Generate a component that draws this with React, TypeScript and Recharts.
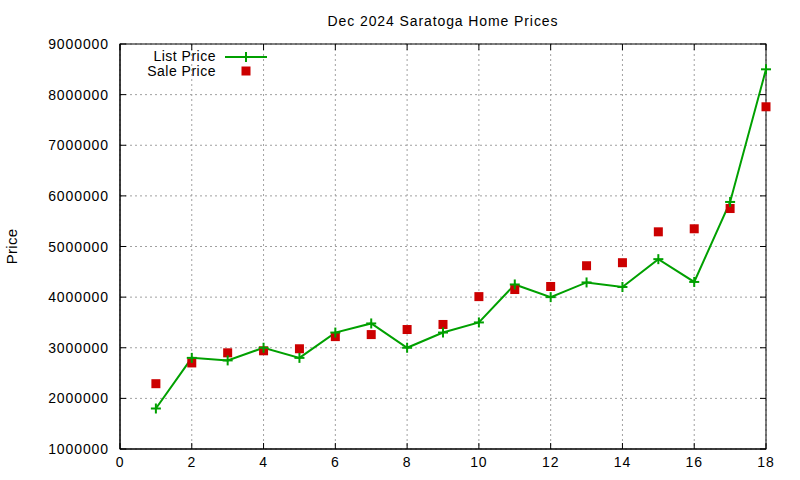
import React from 'react';
import { ComposedChart, Line, Scatter, XAxis, YAxis, CartesianGrid, Legend } from 'recharts';

const xValues = [1, 2, 3, 4, 5, 6, 7, 8, 9, 10, 11, 12, 13, 14, 15, 16, 17, 18];
const listPrices = [1800000, 2800000, 2750000, 3000000, 2800000, 3300000, 3480000, 3000000, 3300000, 3500000, 4250000, 4000000, 4290000, 4200000, 4750000, 4300000, 5880000, 8500000];
const salePrices = [2290000, 2700000, 2900000, 2940000, 2980000, 3220000, 3260000, 3360000, 3460000, 4010000, 4150000, 4210000, 4620000, 4680000, 5290000, 5350000, 5750000, 7760000];
const xTicks = [0, 2, 4, 6, 8, 10, 12, 14, 16, 18];
const yTicks = [1000000, 2000000, 3000000, 4000000, 5000000, 6000000, 7000000, 8000000, 9000000];
const xDomain = [0, 18];
const yDomain = [1000000, 9000000];
const title = 'Dec 2024 Saratoga Home Prices';
const yLabel = 'Price';
const listName = 'List Price';
const saleName = 'Sale Price';

const data = xValues.map((x, i) => ({ x, list: listPrices[i], sale: salePrices[i] }));

const W = 800;
const H = 480;
const MARGIN = { top: 44, right: 34, bottom: 0, left: 0 };
const Y_AXIS_W = 120;
const X_AXIS_H = 31;
const PLOT_L = MARGIN.left + Y_AXIS_W;
const PLOT_R = W - MARGIN.right;
const PLOT_T = MARGIN.top;
const PLOT_B = H - MARGIN.bottom - X_AXIS_H;

const GREEN = '#00a000';
const RED = '#cc0000';
const FONT = '"Liberation Sans", Arial, sans-serif';
const FS = 14;
const LS = 0.9;
const TICK = 6;

const ok = (n: any) => typeof n === 'number' && isFinite(n);

const LeftTick = (p: any) => {
  const { x, y, payload } = p;
  return (
    <g>
      <line x1={x + 11} x2={x + 11 + TICK} y1={y} y2={y} stroke="#000" strokeWidth={1} />
      <line x1={PLOT_R} x2={PLOT_R - TICK} y1={y} y2={y} stroke="#000" strokeWidth={1} />
      <text x={x} y={y} dy="0.36em" textAnchor="end" fontFamily={FONT} fontSize={FS} letterSpacing={LS} fill="#000">
        {payload.value}
      </text>
    </g>
  );
};

const BottomTick = (p: any) => {
  const { x, y, payload } = p;
  return (
    <g>
      <line x1={x} x2={x} y1={y - 7} y2={y - 7 - TICK} stroke="#000" strokeWidth={1} />
      <line x1={x} x2={x} y1={PLOT_T} y2={PLOT_T + TICK} stroke="#000" strokeWidth={1} />
      <text x={x} y={y} dy="0.78em" textAnchor="middle" fontFamily={FONT} fontSize={FS} letterSpacing={LS} fill="#000">
        {payload.value}
      </text>
    </g>
  );
};

const PlusDot = (p: any) => {
  const { cx, cy, index } = p;
  if (!ok(cx) || !ok(cy)) return <g key={`d${index}`} />;
  return (
    <g key={`d${index}`}>
      <line x1={cx - 5} x2={cx + 5} y1={cy} y2={cy} stroke={GREEN} strokeWidth={2} />
      <line x1={cx} x2={cx} y1={cy - 5} y2={cy + 5} stroke={GREEN} strokeWidth={2} />
    </g>
  );
};

const Square = (p: any) => {
  const { cx, cy } = p;
  if (!ok(cx) || !ok(cy)) return <g />;
  return <rect x={cx - 4.5} y={cy - 4.5} width={9} height={9} fill={RED} />;
};

const LegendContent = () => (
  <svg width={170} height={40} style={{ display: 'block' }}>
    <text x={106} y={18.5} textAnchor="end" fontFamily={FONT} fontSize={FS} letterSpacing={0.5} fill="#000">{listName}</text>
    <line x1={115} x2={157} y1={15} y2={15} stroke={GREEN} strokeWidth={2} />
    <line x1={131} x2={141} y1={15} y2={15} stroke={GREEN} strokeWidth={2} />
    <line x1={136} x2={136} y1={10} y2={20} stroke={GREEN} strokeWidth={2} />
    <text x={106} y={34} textAnchor="end" fontFamily={FONT} fontSize={FS} letterSpacing={0.5} fill="#000">{saleName}</text>
    <rect x={131.5} y={24.5} width={9} height={9} fill={RED} />
  </svg>
);

export default function App() {
  return (
    <div style={{ position: 'absolute', left: 0, top: 0, width: W, height: H, background: '#fff' }}>
      <ComposedChart width={W} height={H} data={data} margin={MARGIN}>
        <CartesianGrid stroke="#a0a0a0" strokeDasharray="2 3" strokeWidth={1} />
        <XAxis
          dataKey="x"
          type="number"
          domain={xDomain}
          ticks={xTicks}
          height={X_AXIS_H}
          tickSize={0}
          tickMargin={7}
          tick={<BottomTick />}
          axisLine={{ stroke: '#000', strokeWidth: 1 }}
        />
        <YAxis
          type="number"
          domain={yDomain}
          ticks={yTicks}
          width={Y_AXIS_W}
          tickSize={0}
          tickMargin={11}
          tick={<LeftTick />}
          axisLine={{ stroke: '#000', strokeWidth: 1 }}
        />
        <Line
          dataKey="list"
          name={listName}
          stroke={GREEN}
          strokeWidth={2}
          dot={PlusDot}
          activeDot={false}
          isAnimationActive={false}
        />
        <Scatter dataKey="sale" name={saleName} fill={RED} shape={Square} isAnimationActive={false} />
        <Legend
          layout="horizontal"
          verticalAlign="middle"
          align="center"
          content={<LegendContent />}
          wrapperStyle={{ position: 'absolute', left: 110, top: 42, width: 170, height: 40 }}
        />
        <rect
          x={PLOT_L}
          y={PLOT_T}
          width={PLOT_R - PLOT_L}
          height={PLOT_B - PLOT_T}
          fill="none"
          stroke="#000"
          strokeWidth={1}
        />
        <text x={443} y={26} textAnchor="middle" fontFamily={FONT} fontSize={FS} letterSpacing={LS} fill="#000">
          {title}
        </text>
        <text
          x={11}
          y={246.5}
          transform="rotate(-90, 11, 246.5)"
          textAnchor="middle"
          dominantBaseline="central"
          fontFamily={FONT}
          fontSize={FS + 1}
          letterSpacing={0.3}
          fill="#000"
        >
          {yLabel}
        </text>
      </ComposedChart>
    </div>
  );
}
